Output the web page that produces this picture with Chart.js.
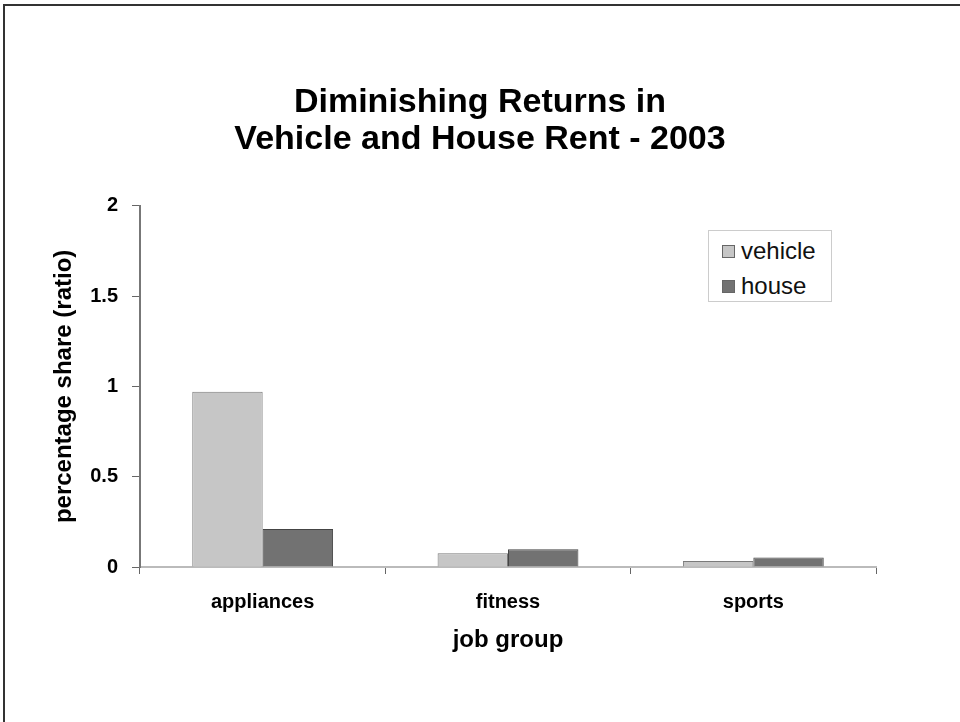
<!DOCTYPE html>
<html>
<head>
<meta charset="utf-8">
<script src="https://cdn.jsdelivr.net/npm/chart.js@4.4.1/dist/chart.umd.min.js"></script>
<style>
  body { margin: 0; background: #fff; }
  #wrap { position: relative; width: 960px; height: 722px; overflow: hidden; }
  #frame { position: absolute; left: 3px; top: 4px; width: 980px; height: 740px;
           border-top: 2px solid #333; border-left: 2px solid #333; }
  #chart { position: absolute; left: 0; top: 0; }
  #legend { position: absolute; left: 708px; top: 230px; width: 122px; height: 70px;
            border: 1px solid #ccc; background: #fff; font-family: "Liberation Sans", Arial, sans-serif;
            font-size: 24px; color: #111; }
  #legend .item { position: absolute; left: 13px; height: 30px; line-height: 30px; }
  #legend .sw { display: inline-block; width: 11px; height: 11px; border: 1px solid #666;
                margin-right: 6px; vertical-align: 1px; }
</style>
</head>
<body>
<div id="wrap">
  <div id="frame"></div>
  <canvas id="chart" width="960" height="722"></canvas>
  <div id="legend"></div>
</div>
<script>
const titleLines = ["Diminishing Returns in", "Vehicle and House Rent - 2003"];
const categories = ["appliances", "fitness", "sports"];
const vehicleValues = [0.97, 0.076, 0.033];
const houseValues = [0.21, 0.098, 0.052];
const seriesNames = ["vehicle", "house"];
const yTicks = [0, 0.5, 1, 1.5, 2];
const xTitle = "job group";
const yTitle = "percentage share (ratio)";

const labelFont = { family: "Liberation Sans", size: 20, weight: "bold" };

// title is centred on the whole canvas, not just the plot
const centerTitle = {
  id: "centerTitle",
  afterLayout(chart) {
    chart.titleBlock.left = 0;
    chart.titleBlock.right = chart.width;
    chart.titleBlock.width = chart.width;
  },
};

const ctx = document.getElementById("chart").getContext("2d");
const chart = new Chart(ctx, {
  type: "bar",
  data: {
    labels: categories,
    datasets: [
      {
        label: seriesNames[0],
        data: vehicleValues,
        backgroundColor: "#c6c6c6",
        borderColor: "#7a7a7a",
        borderWidth: 1,
        categoryPercentage: 0.574,
        barPercentage: 1,
      },
      {
        label: seriesNames[1],
        data: houseValues,
        backgroundColor: "#727272",
        borderColor: "#444",
        borderWidth: 1,
        categoryPercentage: 0.574,
        barPercentage: 1,
      },
    ],
  },
  options: {
    responsive: false,
    animation: false,
    devicePixelRatio: 1,
    layout: { padding: { left: 0, right: 84, top: 0, bottom: 0 } },
    plugins: {
      legend: { display: false },
      tooltip: { enabled: false },
      title: {
        display: true,
        text: titleLines,
        color: "#000",
        font: { family: "Liberation Sans", size: 34, weight: "bold", lineHeight: 1.1 },
        padding: { top: 84, bottom: 47 },
      },
    },
    scales: {
      x: {
        offset: true,
        grid: { display: true, drawOnChartArea: false, tickLength: 7, tickColor: "#666", offset: true },
        border: { color: "#bbb", width: 2 },
        ticks: { color: "#000", font: labelFont, padding: 16, maxRotation: 0 },
        title: {
          display: true,
          text: xTitle,
          color: "#000",
          font: { family: "Liberation Sans", size: 24, weight: "bold" },
          padding: { top: 0, bottom: 67 },
        },
        afterFit: (scale) => { scale.height = 155; },
      },
      y: {
        min: 0,
        max: 2,
        afterBuildTicks: (scale) => { scale.ticks = yTicks.map((v) => ({ value: v })); },
        grid: { drawOnChartArea: false, tickLength: 8, tickColor: "#666" },
        border: { color: "#777", width: 2 },
        ticks: { color: "#000", font: labelFont, padding: 14, callback: (v) => String(v) },
        title: {
          display: true,
          text: yTitle,
          color: "#000",
          font: { family: "Liberation Sans", size: 24, weight: "bold" },
          padding: { top: 50, bottom: 0 },
        },
        afterFit: (scale) => { scale.width = 140; },
      },
    },
  },
  plugins: [centerTitle],
});

// legend inside the plot, like the original
const legendEl = document.getElementById("legend");
chart.data.datasets.forEach((ds, i) => {
  const item = document.createElement("div");
  item.className = "item";
  item.style.top = (5 + i * 35) + "px";
  item.innerHTML = '<span class="sw" style="background:' + ds.backgroundColor + '"></span>' + ds.label;
  legendEl.appendChild(item);
});
</script>
</body>
</html>
